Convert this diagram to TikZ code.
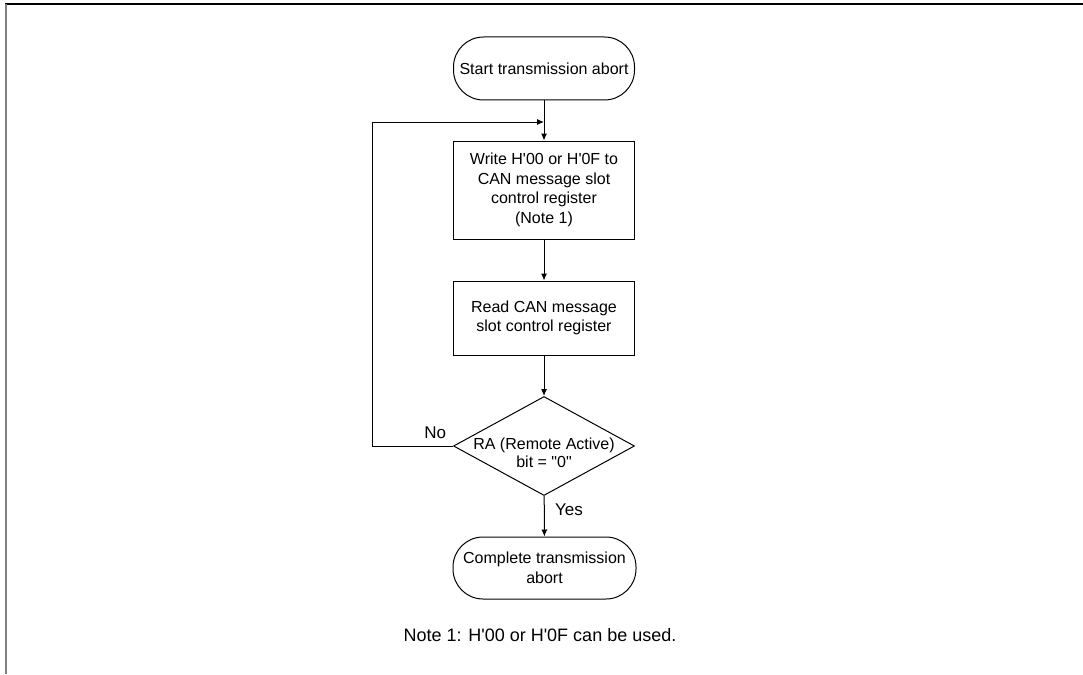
\documentclass[tikz,border=0pt]{standalone}
\usepackage{fontspec}
\setmainfont{Liberation Sans}
\usetikzlibrary{shapes.geometric,arrows.meta}

\begin{document}
\begin{tikzpicture}[x=1pt,y=-1pt,line width=1pt,
  every node/.style={font=\fontsize{16}{19.5}\selectfont},
  term/.style={draw, rounded corners=30pt, minimum width=181pt, minimum height=63pt, inner sep=0pt, align=center},
  proc/.style={draw, minimum width=181pt, inner sep=0pt, align=center},
  decide/.style={draw, diamond, minimum width=181pt, minimum height=99pt, inner sep=0pt},
  lbl/.style={font=\fontsize{17}{20}\selectfont},
  flow/.style={->,>={Latex[length=7pt,width=6pt]}}]

\useasboundingbox (0,0) rectangle (1083,674);

% frame
\draw[line width=1.3pt] (5,4) -- (1083,4);
\draw[gray, line width=1.7pt] (6,4) -- (6,674);

\node[term] (start) at (544,68.5) {Start transmission abort};
\node[proc, minimum height=98pt] (write) at (544,190) {Write H\textquotesingle00 or H\textquotesingle0F to\\CAN message slot\\control register\\(Note 1)};
\node[proc, minimum height=74pt] (read) at (544,318) {Read CAN message\\slot control register};
\node[decide] (check) at (544,446) {};
\node[align=center, font=\fontsize{16}{18}\selectfont] (checktext) at (544,453) {RA (Remote Active)\\bit = \textquotedbl0\textquotedbl};
\node[term, minimum width=183pt, minimum height=62pt] (done) at (544.5,568) {Complete transmission\\abort};
\node[font=\fontsize{18}{21}\selectfont] (note) at (540,635) {Note 1: H\textquotesingle00 or H\textquotesingle0F can be used.};

\coordinate (join) at (544,122);

\draw (start) -- (join);
\draw[flow] (join) -- (write);
\draw[flow] (write) -- (read);
\draw[flow] (read) -- (check);
\draw[flow] (check) -- node[lbl, pos=0.35, right, xshift=7pt] {Yes} (done);
\draw[flow] (check.west) node[lbl, above left, xshift=-3pt, yshift=4pt] {No} -- ++(-81,0) |- (join);

\end{tikzpicture}
\end{document}
